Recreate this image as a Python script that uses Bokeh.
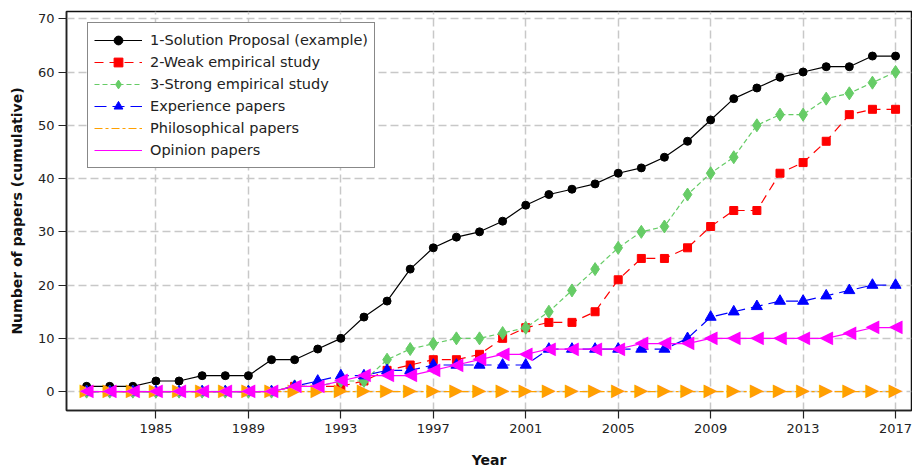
from bokeh.plotting import figure
from bokeh.models import FixedTicker, Range1d, Legend, LegendItem
from bokeh.core.properties import value
from bokeh.embed import file_html
from bokeh.resources import INLINE

years = list(range(1982, 2018))
solution = [1, 1, 1, 2, 2, 3, 3, 3, 6, 6,
            8, 10, 14, 17, 23, 27, 29, 30, 32, 35,
            37, 38, 39, 41, 42, 44, 47, 51, 55, 57,
            59, 60, 61, 61, 63, 63]
weak = [0, 0, 0, 0, 0, 0, 0, 0, 0, 1,
        1, 1, 2, 4, 5, 6, 6, 7, 10, 12,
        13, 13, 15, 21, 25, 25, 27, 31, 34, 34,
        41, 43, 47, 52, 53, 53]
strong = [0, 0, 0, 0, 0, 0, 0, 0, 0, 1,
          1, 2, 2, 6, 8, 9, 10, 10, 11, 12,
          15, 19, 23, 27, 30, 31, 37, 41, 44, 50,
          52, 52, 55, 56, 58, 60]
experience = [0, 0, 0, 0, 0, 0, 0, 0, 0, 1,
              2, 3, 3, 4, 4, 5, 5, 5, 5, 5,
              8, 8, 8, 8, 8, 8, 10, 14, 15, 16,
              17, 17, 18, 19, 20, 20]
philosophical = [0] * 36
opinion = [0, 0, 0, 0, 0, 0, 0, 0, 0, 1,
           1, 2, 3, 3, 3, 4, 5, 6, 7, 7,
           8, 8, 8, 8, 9, 9, 9, 10, 10, 10,
           10, 10, 10, 11, 12, 12]

labels = ["1-Solution Proposal (example)", "2-Weak empirical study",
          "3-Strong empirical study", "Experience papers",
          "Philosophical papers", "Opinion papers"]
x_ticks = [1985, 1989, 1993, 1997, 2001, 2005, 2009, 2013, 2017]
y_ticks = [0, 10, 20, 30, 40, 50, 60, 70]

FONT = "DejaVu Sans"
X0, X1 = 1981.13, 2017.69
Y0, Y1 = -3.54, 71.36
W, H = 912, 470
B_L, B_R, B_T, B_B = 66, 1, 11, 57

p = figure(width=W, height=H, output_backend="svg", toolbar_location=None,
           x_range=Range1d(X0, X1), y_range=Range1d(Y0, Y1),
           min_border_left=B_L, min_border_right=B_R, min_border_top=B_T,
           min_border_bottom=B_B)
p.outline_line_color = "#111111"
p.outline_line_width = 1.5
p.background_fill_color = "white"

for ax in (p.xaxis[0], p.yaxis[0]):
    ax.axis_line_color = "#222222"
    ax.axis_line_width = 1.5
    ax.major_tick_in = 0
    ax.major_tick_out = 8
    ax.major_tick_line_color = "#222222"
    ax.major_tick_line_width = 1.2
    ax.minor_tick_out = 0
    ax.minor_tick_in = 0
    ax.major_label_text_font = FONT
    ax.major_label_text_font_size = "13px"
    ax.major_label_text_color = "#222222"
    ax.axis_label_text_font = FONT
    ax.axis_label_text_font_size = "14px"
    ax.axis_label_text_font_style = "bold"
    ax.axis_label_text_color = "#111111"

p.xaxis.ticker = FixedTicker(ticks=x_ticks)
p.yaxis.ticker = FixedTicker(ticks=y_ticks)
p.xaxis.axis_label = "Year"
p.yaxis.axis_label = "Number of papers (cumulative)"
p.xaxis.major_label_standoff = 5
p.xaxis.axis_label_standoff = 16
p.yaxis.major_label_standoff = 4
p.yaxis.axis_label_standoff = 10

for g in (p.xgrid[0], p.ygrid[0]):
    g.grid_line_color = "#c8c8c8"
    g.grid_line_width = 1.5
    g.grid_line_dash = "8 4"

# (values, colour, dash, marker kind, size)
styles = [
    (solution, "black", "solid", "circle", 8),
    (weak, "#ff0000", "9 6", "square", 8),
    (strong, "#66cc66", "5 3", "diamond", 13),
    (experience, "#0000ff", "12 6", "triangle", 11),
    (philosophical, "#ffa000", "8 3 3 3", "\u25B6", 18),
    (opinion, "#ff00ff", "solid", "\u25C0", 18),
]

# legend layout (canvas pixels)
LEG_X, LEG_Y = 21, 242
SWATCH_PX_X = 118          # centre of legend glyph column
ROW0_PX_Y, ROW_H = 40, 22  # centre of first legend row, row height


def canvas_to_data(px, py):
    fw = W - B_L - B_R
    fh = H - B_T - B_B
    return (X0 + (px - B_L) * (X1 - X0) / fw,
            Y1 - (py - B_T) * (Y1 - Y0) / fh)


items = []
swatch_specs = []
for row, ((vals, color, dash, marker, size), lab) in enumerate(zip(styles, labels)):
    r1 = p.line(years, vals, line_color=color, line_width=1.2, line_dash=dash)
    if len(marker) == 1:
        r2 = p.text(years, vals, text=[marker] * len(years),
                    text_color=color, text_font=value(FONT),
                    text_font_size=f"{size}px", text_align="center",
                    text_baseline="middle", y_offset=-2)
        swatch_specs.append((row, marker, color, size))
    else:
        r2 = p.scatter(years, vals, marker=marker, size=size,
                       fill_color=color, line_color=color)
    items.append(LegendItem(label=lab, renderers=[r1, r2]))

legend = Legend(items=items, location=(LEG_X, LEG_Y))
legend.glyph_width = 48
legend.glyph_height = 22
legend.label_height = 22
legend.spacing = 0
legend.padding = 6
legend.margin = 0
legend.label_standoff = 8
legend.border_line_color = "#111111"
legend.border_line_width = 1.2
legend.background_fill_alpha = 1
legend.label_text_font = FONT
legend.label_text_font_size = "14.5px"
legend.label_text_color = "#222222"
p.add_layout(legend)

# legend swatch markers (text glyphs are not drawn by the legend itself);
# drawn as glyph renderers on the overlay level, above the legend box
for row, marker, color, size in swatch_specs:
    sx, sy = canvas_to_data(SWATCH_PX_X, ROW0_PX_Y + ROW_H * row)
    p.text([sx], [sy], text=[marker], text_color=color,
           text_font=value(FONT), text_font_size=f"{size}px",
           text_align="center", text_baseline="middle", y_offset=-2,
           level="overlay")

open("out.html", "w").write(file_html(p, INLINE))
